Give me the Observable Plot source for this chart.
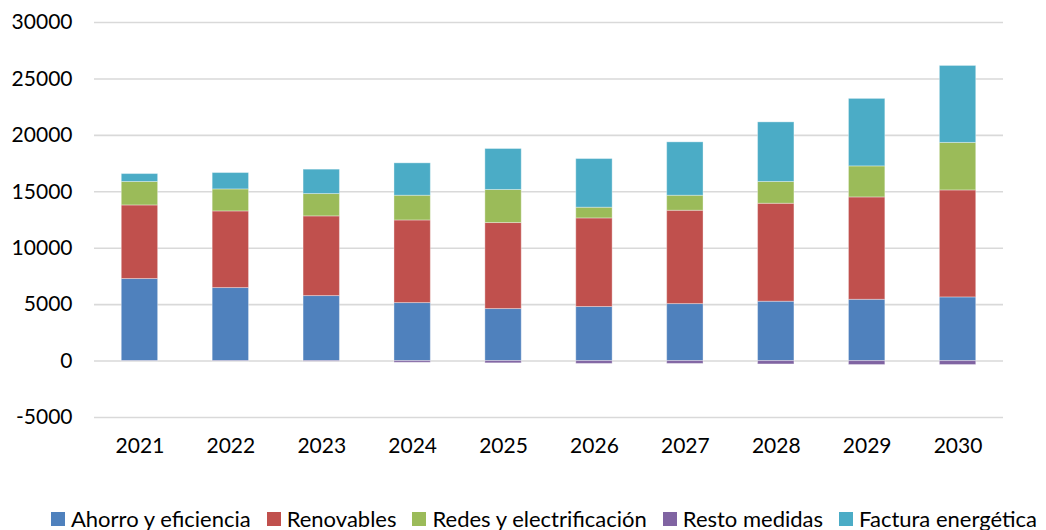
<!DOCTYPE html>
<html>
<head>
<meta charset="utf-8">
<script src="https://cdn.jsdelivr.net/npm/d3@7"></script>
<script src="https://cdn.jsdelivr.net/npm/@observablehq/plot@0.6"></script>
<style>
  body { margin: 0; background: #fff; font-family: Lato, sans-serif; }
  #chart svg { display: block; }
  #chart svg text { font-family: Lato, sans-serif; font-size: 21px; fill: #000; }
  .legend { display: flex; justify-content: center; gap: 16px; font-size: 22px; line-height: 24px; color: #000; margin-top: 37px; padding-left: 42px; }
  .legend span { display: inline-flex; align-items: center; white-space: nowrap; }
  .legend i { display: inline-block; width: 14px; height: 14px; margin-right: 6px; }
</style>
</head>
<body>
<div id="chart"></div>
<script>
const years = ["2021","2022","2023","2024","2025","2026","2027","2028","2029","2030"];
const seriesNames = ["Ahorro y eficiencia","Renovables","Redes y electrificación","Resto medidas","Factura energética"];
const colors = ["#4F81BD","#C0504D","#9BBB59","#8064A2","#4BACC6"];
const ahorro    = [7270, 6470, 5760, 5140, 4610, 4790, 5050, 5260, 5430, 5640];
const renovables= [6520, 6790, 7060, 7320, 7620, 7850, 8270, 8680, 9070, 9480];
const redes     = [2080, 1950, 1980, 2190, 2930,  950, 1330, 1930, 2750, 4210];
const resto     = [-20, -30, -50, -150, -200, -250, -250, -300, -350, -350];
const factura   = [ 700, 1450, 2160, 2870, 3630, 4310, 4730, 5280, 5980, 6820];
const yTicks = [-5000, 0, 5000, 10000, 15000, 20000, 25000, 30000];

const seriesValues = [ahorro, renovables, redes, resto, factura];
const data = [];
seriesNames.forEach((s, i) => years.forEach((y, j) => data.push({year: y, series: s, value: seriesValues[i][j]})));

const chart = Plot.plot({
  width: 1046,
  height: 470,
  marginTop: 22,
  marginBottom: 53,
  marginLeft: 94,
  marginRight: 43,
  style: {fontFamily: "Lato, sans-serif", fontSize: "21px", color: "#000", background: "#fff"},
  x: {domain: years, paddingInner: 0.6, paddingOuter: 0.3, round: false, label: null},
  y: {domain: [-5000, 30000], label: null},
  color: {domain: seriesNames, range: colors},
  marks: [
    Plot.ruleY(yTicks, {stroke: "#d9d9d9", strokeWidth: 1.6}),
    Plot.barY(data, {x: "year", y: "value", fill: "series", order: seriesNames, stroke: "white", strokeOpacity: 0.35, strokeWidth: 1}),
    Plot.axisY(yTicks, {tickSize: 0, tickPadding: 22, tickFormat: d => String(d), fontSize: 21, label: null}),
    Plot.axisX({tickSize: 0, tickPadding: 21, fontSize: 21, label: null})
  ]
});
document.getElementById("chart").appendChild(chart);

const legend = document.createElement("div");
legend.className = "legend";
seriesNames.forEach((s, i) => {
  const item = document.createElement("span");
  const sw = document.createElement("i");
  sw.style.background = colors[i];
  item.appendChild(sw);
  item.appendChild(document.createTextNode(s));
  legend.appendChild(item);
});
document.body.appendChild(legend);
</script>
</body>
</html>
